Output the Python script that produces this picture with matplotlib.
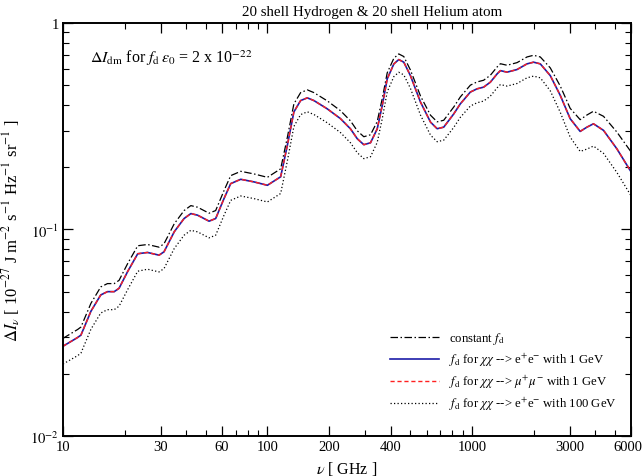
import matplotlib
matplotlib.use("Agg")
import matplotlib.pyplot as plt
import matplotlib.transforms as mtransforms
from matplotlib.ticker import FixedLocator, NullFormatter, LogLocator

plt.rcParams['font.family'] = ['Liberation Serif', 'DejaVu Serif']
plt.rcParams['mathtext.fontset'] = 'stix'

# frequency grid [GHz]
freq = [10, 11.8, 12.24, 13.7, 15.3, 16.5, 17.8, 18.8, 20.7, 23.2,
        25.9, 29.5, 31.2, 35.0, 39.1, 42.2, 45.5, 51.8, 55.8, 61.3,
        66.1, 74.0, 85.9, 99.9, 116, 125, 134.6, 145.2, 156.6, 168.7,
        196, 227.6, 254.7, 274.8, 295.9, 319, 344, 364, 385, 415,
        438.5, 464, 500, 560, 627, 675.5, 727.5, 814.5, 877, 982,
        1059, 1140, 1230, 1327, 1377, 1484, 1660, 1858, 2000, 2158,
        2415, 2702, 3021, 3381, 3648, 3927, 4397, 5109, 6000]

# constant f_d
dI_const = [0.0297, 0.0328, 0.0337, 0.0439, 0.0527, 0.0547, 0.0547, 0.0567, 0.0683, 0.0834,
            0.0846, 0.0821, 0.0853, 0.1066, 0.1235, 0.1305, 0.1282, 0.1199, 0.1235, 0.1543,
            0.1823, 0.1913, 0.1858, 0.1789, 0.1967, 0.2787, 0.4055, 0.460, 0.4744, 0.460,
            0.4197, 0.376, 0.3356, 0.3006, 0.2813, 0.2875, 0.3333, 0.430, 0.5735, 0.6752,
            0.7082, 0.688, 0.5921, 0.4430, 0.3575, 0.3322, 0.3380, 0.3920, 0.4385, 0.5000,
            0.5184, 0.5281, 0.5584, 0.6124, 0.6350, 0.6242, 0.6426, 0.6847, 0.6977, 0.6847,
            0.6060, 0.4950, 0.3860, 0.3403, 0.3584, 0.3738, 0.3533, 0.2965, 0.2373]

# chi chi -> e+ e-, 1 GeV
dI_ee_1 = [0.0272, 0.0300, 0.0308, 0.0402, 0.0482, 0.0500, 0.0500, 0.0519, 0.0625, 0.0763,
           0.0774, 0.0751, 0.0780, 0.0975, 0.113, 0.1194, 0.1173, 0.1097, 0.113, 0.1412,
           0.1668, 0.175, 0.170, 0.1637, 0.180, 0.255, 0.371, 0.421, 0.434, 0.421,
           0.384, 0.344, 0.307, 0.275, 0.2574, 0.263, 0.307, 0.398, 0.536, 0.634,
           0.665, 0.646, 0.556, 0.414, 0.331, 0.3076, 0.313, 0.363, 0.406, 0.463,
           0.480, 0.489, 0.517, 0.567, 0.588, 0.578, 0.595, 0.634, 0.646, 0.634,
           0.556, 0.446, 0.344, 0.2985, 0.313, 0.325, 0.302, 0.246, 0.190]

# chi chi -> mu+ mu-, 1 GeV
dI_mumu_1 = [0.0272, 0.0300, 0.0308, 0.0402, 0.0482, 0.0500, 0.0500, 0.0519, 0.0625, 0.0763,
             0.0774, 0.0751, 0.0780, 0.0975, 0.113, 0.1194, 0.1173, 0.1097, 0.113, 0.1412,
             0.1668, 0.175, 0.170, 0.1637, 0.180, 0.255, 0.371, 0.421, 0.434, 0.421,
             0.384, 0.344, 0.307, 0.275, 0.2574, 0.263, 0.307, 0.398, 0.536, 0.634,
             0.665, 0.646, 0.556, 0.414, 0.331, 0.3076, 0.313, 0.363, 0.406, 0.463,
             0.480, 0.489, 0.517, 0.567, 0.588, 0.578, 0.595, 0.634, 0.646, 0.634,
             0.556, 0.446, 0.344, 0.2985, 0.313, 0.325, 0.302, 0.246, 0.190]

# chi chi -> e+ e-, 100 GeV
dI_ee_100 = [0.0223, 0.0245, 0.0252, 0.0329, 0.0394, 0.0409, 0.0409, 0.0425, 0.0511, 0.0628,
             0.0642, 0.0623, 0.0647, 0.0809, 0.0938, 0.0991, 0.0974, 0.0911, 0.0938, 0.1172,
             0.1384, 0.1453, 0.1411, 0.1359, 0.1494, 0.2142, 0.3153, 0.3600, 0.3715, 0.3604,
             0.3287, 0.2945, 0.2628, 0.2354, 0.2203, 0.2251, 0.2640, 0.3439, 0.4642, 0.5503,
             0.5772, 0.5607, 0.4826, 0.3581, 0.2863, 0.2661, 0.2708, 0.3122, 0.3492, 0.3963,
             0.4109, 0.4186, 0.4426, 0.4854, 0.5033, 0.4948, 0.5093, 0.5427, 0.5530, 0.5427,
             0.4692, 0.3693, 0.2800, 0.2388, 0.2451, 0.2535, 0.2337, 0.1890, 0.1455]

xticks_major = [10, 30, 60, 100, 200, 400, 1000, 3000, 6000]
xticks_minor = [20, 40, 50, 70, 80, 90, 300, 500, 600, 700, 800, 900, 2000, 4000, 5000]
yticks_major = [0.01, 0.1, 1]
ytick_labels = [r'$10^{-2}$', r'$10^{-1}$', '1']

fig = plt.figure(figsize=(6.44, 4.77), dpi=100)
ax = fig.add_axes([0.0978, 0.0839, 0.8822, 0.8658])

ax.plot(freq, dI_const, color='black', lw=0.9, linestyle=(0, (6, 2, 1.2, 2)),
        label=r'constant $f_{\rm d}$')
ax.plot(freq, dI_ee_1, color='#1c1ca8', lw=1.2,
        label=r'$f_{\rm d}$ for $\chi\chi$ --> e$^{+}$e$^{-}$ with 1 GeV')
ax.plot(freq, dI_mumu_1, color='#ff2020', lw=1.0, linestyle=(0, (3, 2)),
        label=r'$f_{\rm d}$ for $\chi\chi$ --> $\mu^{+}\mu^{-}$ with 1 GeV')
ax.plot(freq, dI_ee_100, color='black', lw=0.9, linestyle=(0, (1, 1.8)),
        label=r'$f_{\rm d}$ for $\chi\chi$ --> e$^{+}$e$^{-}$ with 100 GeV')

ax.set_xscale('log')
ax.set_yscale('log')
ax.set_xlim(10, 6000)
ax.set_ylim(0.01, 1)

ax.xaxis.set_major_locator(FixedLocator(xticks_major))
ax.xaxis.set_minor_locator(FixedLocator(xticks_minor))
ax.set_xticklabels([str(v) for v in xticks_major])
ax.xaxis.set_minor_formatter(NullFormatter())
ax.yaxis.set_major_locator(FixedLocator(yticks_major))
ax.set_yticklabels(ytick_labels)
ax.yaxis.set_minor_locator(LogLocator(base=10, subs=range(2, 10)))
ax.yaxis.set_minor_formatter(NullFormatter())

ax.tick_params(which='both', direction='in', top=True, right=True, labelsize=10.5)
ax.tick_params(which='major', length=7.5, width=0.9, pad=3)
ax.tick_params(which='minor', length=4, width=0.8)
for s in ax.spines.values():
    s.set_linewidth(1.4)

# keep the last frequency label inside the canvas
last = ax.get_xticklabels()[-1]
last.set_transform(last.get_transform() +
                   mtransforms.ScaledTranslation(-3 / 100, 0, fig.dpi_scale_trans))

ax.set_title('20 shell Hydrogen & 20 shell Helium atom', fontsize=10.8, pad=6, x=0.544)
ax.set_xlabel(r'$\nu$ [ GHz ]', fontsize=11.5, labelpad=4)
ax.set_ylabel(r'$\Delta I_{\nu}$ [ 10$^{-27}$ J m$^{-2}$ s$^{-1}$ Hz$^{-1}$ sr$^{-1}$ ]',
              fontsize=12, labelpad=5)

ax.text(0.048, 0.905, r'$\Delta I_{\rm dm}$ for $f_{\rm d}\,\varepsilon_0$ = 2 x 10$^{-22}$',
        transform=ax.transAxes, fontsize=11.5)

ax.legend(loc='lower left', bbox_to_anchor=(0.576, 0.058), frameon=False, fontsize=9.2,
          handlelength=3.8, handletextpad=0.8, labelspacing=0.35,
          borderaxespad=0, borderpad=0)

fig.savefig('out.png', dpi=100)
